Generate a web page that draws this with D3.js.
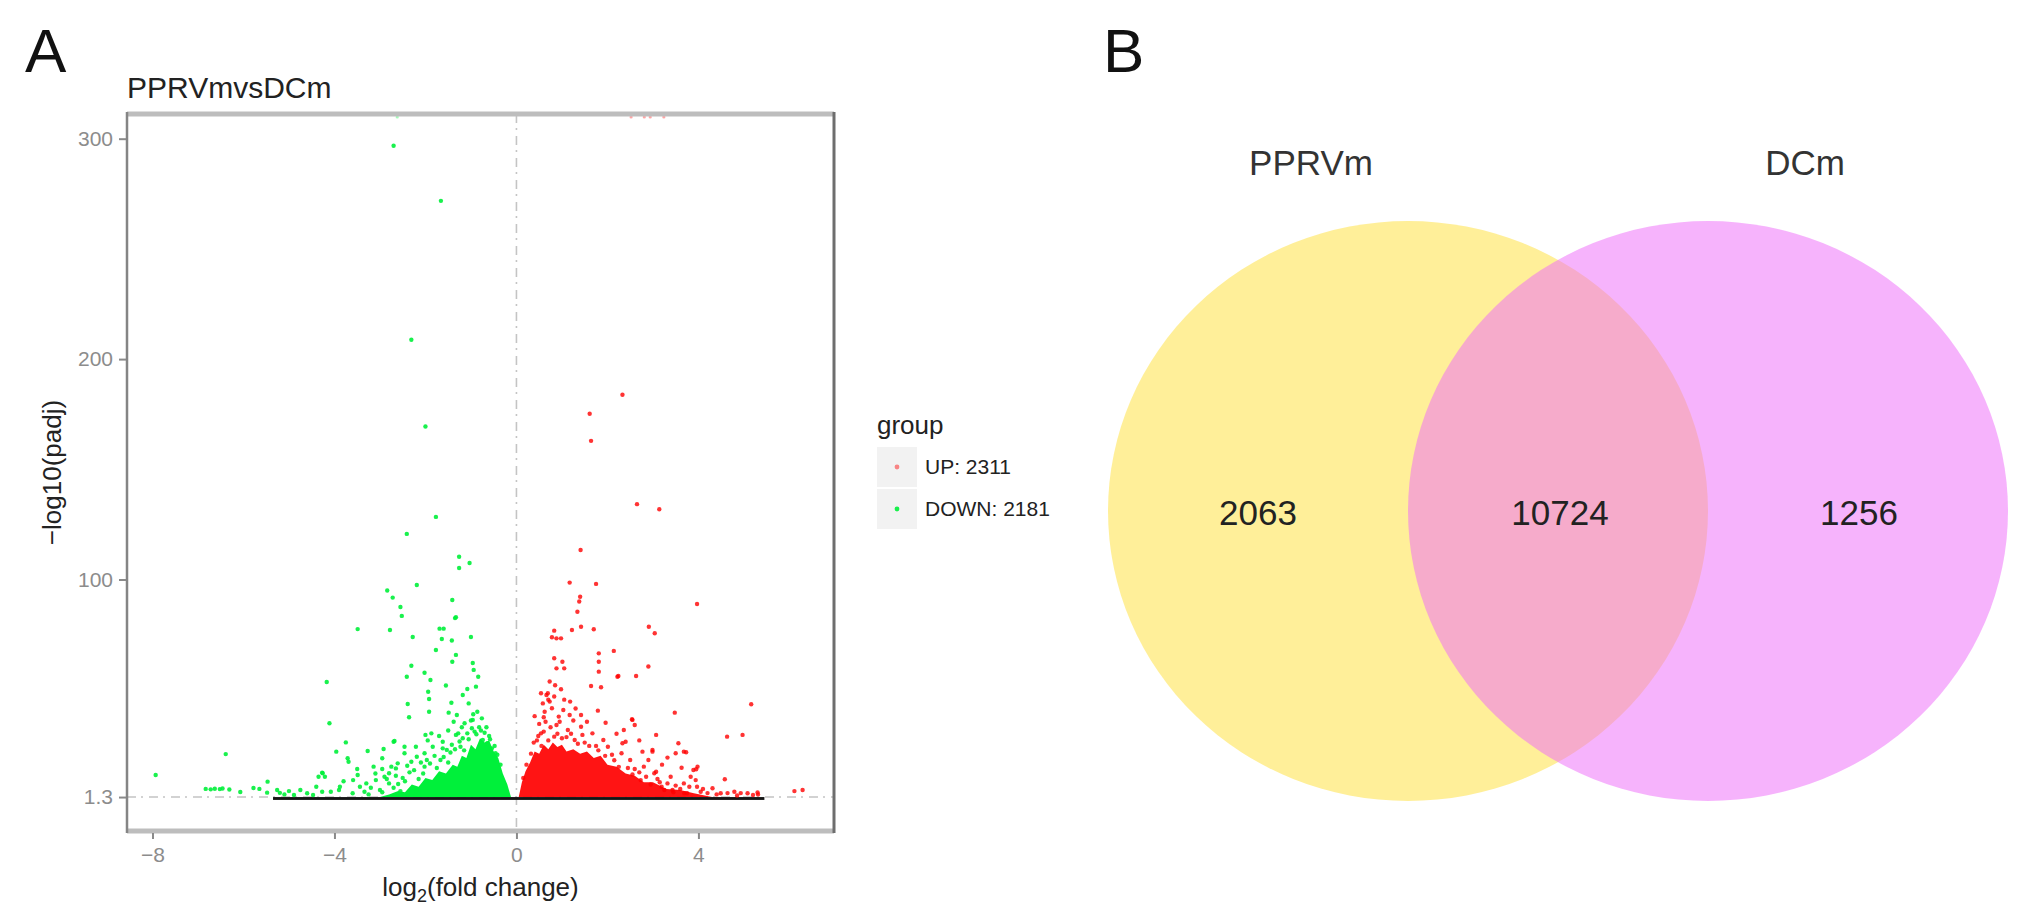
<!DOCTYPE html>
<html>
<head>
<meta charset="utf-8">
<script src="https://cdn.jsdelivr.net/npm/d3@7"></script>
<style>
  body { margin: 0; background: #fff; }
  svg { display: block; font-family: "Liberation Sans", Arial, Helvetica, sans-serif; }
</style>
</head>
<body>
<div id="chart"></div>
<script>
// ---- volcano data (log2 fold change, -log10 padj) ----
const downPoints = [
  [-2.70,296.8],[-1.66,271.8],[-2.31,208.8],[-2.00,169.4],[-1.77,128.4],[-2.41,120.7],
  [-1.26,110.3],[-1.26,105.2],[-1.03,107.5],[-2.19,97.5],[-2.84,95.0],[-2.72,91.8],
  [-1.41,90.7],[-2.55,87.5],[-2.52,83.5],[-1.35,82.5],[-1.33,82.9],[-3.49,77.5],
  [-2.78,77.1],[-1.69,77.7],[-1.60,77.7],[-2.28,73.9],[-1.64,73.0],[-1.42,72.3],
  [-1.00,73.9],[-1.77,68.0],[-1.33,65.8],[-1.41,62.7],[-0.96,62.1],[-2.31,60.9],
  [-2.02,57.7],[-2.41,55.9],[-0.94,59.0],[-0.84,55.9],[-4.17,53.5],[-1.89,54.4],
  [-1.55,51.9],[-0.89,51.4],[-1.94,49.1],[-1.08,50.3],[-1.18,47.6],[-1.92,45.8],
  [-2.39,43.5],[-1.43,44.1],[-1.05,43.8],[-1.92,40.0],[-1.49,39.6],[-1.31,38.5],
  [-0.95,38.9],[-2.36,37.5],[-0.76,37.0],[-1.38,35.5],[-4.11,34.8],[-2.00,29.5],
  [-1.87,30.2],[-3.75,26.1],[-3.96,21.9],[-3.27,22.2],[-2.92,23.1],[-2.68,26.7],
  [-3.71,18.9],[-3.69,17.3],[-2.95,18.9],[-6.39,20.8],[-7.93,11.3],[-4.26,12.1],
  [-4.21,10.5],[-5.47,8.3],[-6.83,5.0],[-6.72,4.8],[-6.63,5.1],[-6.52,4.9],
  [-6.46,5.2],[-6.31,4.7],[-6.07,3.6],[-5.78,5.4],[-5.65,5.0],[-5.26,4.5],
  [-5.20,3.2],[-4.89,2.2],[-5.48,3.3],
  [-4.35,10.5],[-4.27,12.4],[-3.59,9.0],[-3.49,11.3],[-3.44,6.0],[-3.14,15.1],
  [-3.09,9.0],[-2.80,12.1],[-2.65,14.3],[-2.80,7.5],[-3.88,6.0],[-4.08,3.7],
  [-4.27,3.7],[-4.47,2.2],[-3.34,3.7],[-3.00,4.5],[-2.90,10.5],
  [-2.70,26.4],[-2.46,24.1],[-2.46,21.2],[-2.21,24.1],[-2.19,19.6],[-2.02,21.2],
  [-1.84,24.1],[-1.62,26.4],[-1.62,23.4],[-1.42,25.0],[-1.33,29.5],[-1.28,30.2],
  [-1.23,24.1],[-1.08,30.2],[-0.98,32.5],[-0.96,36.3],[-0.92,31.0],[-0.74,27.2],
  [-0.64,25.7],[-0.54,23.4],[-0.46,21.2],[-1.14,34.8],[-1.53,22.7],[-1.97,18.1],
  [-2.31,17.3],[-2.61,16.6],[-2.75,15.1],[-2.02,15.1],[-1.67,18.1],
  [-0.70,30.5],[-0.82,33.0],[-1.18,28.0],[-0.60,29.0],[-1.05,27.5],[-0.88,29.8],
  [-2.50,10.0],[-2.60,7.2],[-2.35,12.5],[-2.15,9.5],[-3.20,5.5],[-3.60,3.0],
  [-3.80,8.5],[-2.95,3.5],[-2.55,4.0],[-4.60,3.0],[-5.00,4.0],
  [-3.30,7.5],[-3.10,12.0],[-2.95,14.0],[-2.85,9.5],[-2.70,5.5],[-2.65,11.0],
  [-2.45,8.5],[-2.40,15.5],[-2.25,13.5],[-2.10,17.0],[-2.05,12.0],[-1.90,16.5],
  [-1.80,20.0],[-1.75,14.5],[-1.60,19.5],[-1.50,17.0],[-1.45,21.5],[-1.35,23.0],
  [-1.25,26.5],[-1.15,22.5],[-0.78,31.5],[-0.66,33.0],[-0.58,27.5],[-0.48,24.5],
  [-0.42,20.5],[-0.35,16.0],[-3.50,14.0],[-3.90,4.5],[-4.40,6.0],[-4.75,4.5],
  [-5.10,2.5],[-3.25,2.5],[-2.20,4.0],[-1.95,27.0],[-1.70,29.0],[-1.50,31.5],
  [-1.20,33.0],[-1.00,36.0],[-0.86,40.0]
];
const upPoints = [
  [2.33,183.8],[1.61,175.2],[1.64,162.9],[2.65,134.2],[3.14,131.9],[1.41,113.4],
  [1.17,98.6],[1.75,98.0],[1.40,92.2],[1.38,90.0],[3.97,88.9],[1.34,85.4],
  [1.42,78.6],[1.22,77.1],[1.70,77.4],[2.91,78.6],[3.04,75.6],[0.83,76.8],
  [0.88,73.3],[0.78,73.8],[0.98,73.3],[1.81,66.5],[2.14,67.6],[1.81,62.7],
  [0.83,64.3],[1.01,62.7],[0.88,59.7],[1.05,59.7],[1.81,58.2],[2.90,60.5],
  [2.63,56.2],[2.24,56.2],[0.73,53.7],[1.64,51.7],[1.86,51.1],[0.98,50.2],
  [0.66,47.6],[0.83,46.9],[0.73,44.6],[1.18,44.6],[1.79,40.5],[3.48,39.6],
  [1.42,38.5],[0.62,40.0],[0.93,37.8],[2.55,36.3],[1.96,35.0],[2.36,31.7],
  [2.60,34.0],[3.07,29.5],[3.56,25.7],[3.73,21.6],[3.32,19.2],[3.95,13.9],
  [3.63,14.6],[3.07,12.8],
  [5.16,43.4],[4.63,28.7],[4.97,29.5],[3.68,21.9],[3.98,15.1],[3.89,13.6],
  [4.58,9.4],[6.11,4.0],[6.29,4.5],[2.22,55.9],[2.54,36.6],[2.33,25.7],
  [2.77,21.9],[2.99,21.9],[3.50,21.2],
  [0.54,48.4],[0.69,48.4],[0.58,43.8],[0.78,41.6],[1.03,40.8],[1.17,38.5],
  [0.64,35.5],[0.88,34.0],[1.13,31.7],[1.42,33.2],[1.67,30.2],[0.54,30.2],
  [0.83,28.7],[1.28,27.2],[1.91,27.2],[2.01,24.1],[2.31,21.2],[2.50,18.1],
  [2.80,15.1],[2.90,18.1],[2.40,26.4],[2.99,22.7],[3.39,10.5],[3.68,7.5],
  [3.97,6.0],[3.19,6.0],[3.83,10.5],
  [2.73,9.0],[3.03,12.1],[3.32,7.5],[3.80,6.0],[3.94,9.0],[4.05,3.7],
  [4.31,5.3],[4.49,3.0],[4.79,3.7],[5.08,3.0],[5.30,3.4],[3.69,3.0],
  [3.43,4.5],[4.20,3.1],[4.64,3.1],[4.93,3.1],[5.31,2.5],
  [0.45,27.0],[0.60,31.0],[1.10,28.5],[1.50,26.0],[0.95,35.5],[1.25,36.0],
  [0.40,38.0],[0.50,34.5],[1.75,24.5],[2.10,20.5],[2.60,14.0],[3.10,9.5],[3.50,6.5],
  [0.15,10.0],[0.22,16.0],[0.32,21.0],[0.38,26.0],[0.48,29.0],[0.55,24.5],
  [0.70,27.0],[0.75,33.0],[0.90,30.0],[1.00,28.0],[1.20,30.0],[1.35,25.5],
  [1.45,29.5],[1.60,24.5],[1.80,22.5],[1.95,20.0],[2.15,18.0],[2.25,15.0],
  [2.45,14.5],[2.55,11.5],[2.70,12.5],[2.85,10.5],[2.95,7.0],[3.15,8.0],
  [3.25,4.5],[3.45,3.5],[3.60,5.0],[3.75,3.0],[4.10,5.0],[4.40,2.5],
  [4.85,2.0],[5.20,2.2],[0.60,37.5],[0.70,45.5],[1.05,45.5],[1.30,41.5],
  [1.55,35.5],[0.85,52.0],[2.20,30.0],[2.70,27.0],[3.20,16.0]
];
// padj == 0 -> Inf, drawn on the top edge
const upInfX = [2.52, 2.81, 2.94, 3.24];
const downInfX = [-2.62];

// saturated cores where the points merge into a solid block
const downCoreX = [-3.0, -2.8, -2.6, -2.45, -2.3, -2.15, -2.0, -1.85, -1.7, -1.55, -1.4, -1.3,
  -1.2, -1.1, -1.0, -0.9, -0.8, -0.7, -0.6, -0.5, -0.4, -0.3, -0.2, -0.12];
const downCoreTop = [1.3, 2.5, 4, 3.5, 7, 6, 10, 9, 13, 12, 16, 15,
  20, 19, 25, 23, 28, 26, 27, 22, 19, 12, 7, 1.3];
const upCoreX = [0.05, 0.12, 0.2, 0.3, 0.4, 0.5, 0.6, 0.7, 0.8, 0.9, 1.0, 1.1, 1.25, 1.4,
  1.55, 1.7, 1.85, 2.0, 2.2, 2.4, 2.6, 2.8, 3.0, 3.3, 3.6, 3.9, 4.3];
const upCoreTop = [1.3, 8, 13, 17, 22, 21, 25, 23, 26, 24, 25, 22, 23, 21,
  22, 19, 20, 16, 15, 12, 11, 8, 8, 5, 4.5, 3, 1.3];

// non significant genes: band along the bottom
const nsX = [-5.35, 5.45];
const nsY = [0, 1.3];

const xTicks = [-8, -4, 0, 4];
const yTicks = [1.3, 100, 200, 300];
const xDomain = [-8.56, 6.98];
const yDomain = [-14.1, 311.2];
const threshold = 1.3;

const legendLabels = ['UP: 2311', 'DOWN: 2181'];

// ---- venn data ----
const vennSets = ['PPRVm', 'DCm'];
const vennCounts = [2063, 10724, 1256]; // PPRVm only, both, DCm only

const RED = '#ff0000', GREEN = '#00f03a';

const svg = d3.select('#chart').append('svg')
  .attr('width', 2028).attr('height', 916);

// panel letters
svg.append('text').attr('x', 25).attr('y', 72)
  .attr('font-size', 62).attr('fill', '#111').text('A');
svg.append('text').attr('x', 1103).attr('y', 72)
  .attr('font-size', 62).attr('fill', '#111').text('B');

// ================= volcano =================
const panel = { left: 127, right: 834, top: 114, bottom: 831 };

const x = d3.scaleLinear().domain(xDomain).range([panel.left, panel.right]);
const y = d3.scaleLinear().domain(yDomain).range([panel.bottom, panel.top]);
const yVal = (v) => (v === Infinity ? panel.top : y(v));

svg.append('text').attr('x', panel.left).attr('y', 98)
  .attr('font-size', 30).attr('fill', '#222').text('PPRVmvsDCm');

const plot = svg.append('g');

// threshold lines
const dash = '9,5,2,6';
plot.append('line')
  .attr('x1', panel.left).attr('x2', panel.right)
  .attr('y1', y(threshold)).attr('y2', y(threshold))
  .attr('stroke', '#c4c4c4').attr('stroke-width', 1.6).attr('stroke-dasharray', dash);
plot.append('line')
  .attr('x1', x(0)).attr('x2', x(0))
  .attr('y1', panel.top).attr('y2', panel.bottom)
  .attr('stroke', '#c4c4c4').attr('stroke-width', 1.6).attr('stroke-dasharray', dash);

// cores
const core = d3.area()
  .x((d) => x(d[0]))
  .y0(y(threshold))
  .y1((d) => y(d[1]));
plot.append('path')
  .datum(d3.zip(downCoreX, downCoreTop))
  .attr('d', core).attr('fill', GREEN);
plot.append('path')
  .datum(d3.zip(upCoreX, upCoreTop))
  .attr('d', core).attr('fill', RED).attr('opacity', 0.92);

// non significant band
plot.append('rect')
  .attr('x', x(nsX[0])).attr('width', x(nsX[1]) - x(nsX[0]))
  .attr('y', y(nsY[1])).attr('height', y(nsY[0]) - y(nsY[1]))
  .attr('fill', '#151515');

// points
plot.append('g').selectAll('circle')
  .data(downPoints).join('circle')
  .attr('cx', (d) => x(d[0])).attr('cy', (d) => y(d[1]))
  .attr('r', 2.2).attr('fill', GREEN).attr('opacity', 0.9);
plot.append('g').selectAll('circle')
  .data(upPoints).join('circle')
  .attr('cx', (d) => x(d[0])).attr('cy', (d) => y(d[1]))
  .attr('r', 2.2).attr('fill', RED).attr('opacity', 0.8);
plot.append('g').selectAll('circle')
  .data(upInfX.map((v) => ({ c: RED, v })).concat(downInfX.map((v) => ({ c: GREEN, v }))))
  .join('circle')
  .attr('cx', (d) => x(d.v)).attr('cy', yVal(Infinity) + 3)
  .attr('r', 1.6).attr('fill', (d) => d.c).attr('opacity', 0.35);

// panel border (left/right darker, top/bottom lighter as in the figure)
svg.append('line').attr('x1', panel.left).attr('x2', panel.right)
  .attr('y1', panel.top).attr('y2', panel.top)
  .attr('stroke', '#bdbdbd').attr('stroke-width', 5);
svg.append('line').attr('x1', panel.left).attr('x2', panel.right)
  .attr('y1', panel.bottom).attr('y2', panel.bottom)
  .attr('stroke', '#bdbdbd').attr('stroke-width', 5);
svg.append('line').attr('x1', panel.left).attr('x2', panel.left)
  .attr('y1', panel.top - 2).attr('y2', panel.bottom + 2)
  .attr('stroke', '#858585').attr('stroke-width', 2.5);
svg.append('line').attr('x1', panel.right).attr('x2', panel.right)
  .attr('y1', panel.top - 2).attr('y2', panel.bottom + 2)
  .attr('stroke', '#6e6e6e').attr('stroke-width', 3);

// axes
const xAxisG = svg.append('g')
  .attr('transform', `translate(0,${panel.bottom + 2})`)
  .call(d3.axisBottom(x).tickValues(xTicks).tickSize(6).tickPadding(8));
const yAxisG = svg.append('g')
  .attr('transform', `translate(${panel.left - 1},0)`)
  .call(d3.axisLeft(y).tickValues(yTicks).tickSize(7).tickPadding(6).tickFormat((d) => d));
[xAxisG, yAxisG].forEach((g) => {
  g.select('.domain').remove();
  g.selectAll('.tick line').attr('stroke', '#8a8a8a').attr('stroke-width', 2);
  g.selectAll('.tick text').attr('fill', '#8c8c8c').attr('font-size', 21)
    .attr('font-family', '"Liberation Sans", Arial, sans-serif');
});

// axis titles
svg.append('text')
  .attr('transform', `translate(61,${(panel.top + panel.bottom) / 2}) rotate(-90)`)
  .attr('text-anchor', 'middle').attr('font-size', 26).attr('fill', '#222')
  .text('\u2212log10(padj)');
const xt = svg.append('text')
  .attr('x', (panel.left + panel.right) / 2).attr('y', 896)
  .attr('text-anchor', 'middle').attr('font-size', 26).attr('fill', '#222');
xt.append('tspan').text('log');
xt.append('tspan').attr('font-size', 18).attr('dy', 6).text('2');
xt.append('tspan').attr('dy', -6).text('(fold change)');

// legend
const legend = svg.append('g').attr('transform', 'translate(877,0)');
legend.append('text').attr('x', 0).attr('y', 434)
  .attr('font-size', 26).attr('fill', '#222').text('group');
const keys = legend.selectAll('g.key')
  .data(legendLabels.map((l, i) => ({ l, c: i === 0 ? RED : GREEN })))
  .join('g').attr('class', 'key')
  .attr('transform', (d, i) => `translate(0,${447 + i * 42})`);
keys.append('rect').attr('width', 40).attr('height', 40).attr('fill', '#f2f2f2');
keys.append('circle').attr('cx', 20).attr('cy', 20).attr('r', 2.4)
  .attr('fill', (d) => d.c).attr('opacity', (d, i) => (i === 0 ? 0.45 : 0.9));
keys.append('text').attr('x', 48).attr('y', 27)
  .attr('font-size', 21).attr('fill', '#222').text((d) => d.l);

// ================= venn =================
const venn = svg.append('g');
const vx = d3.scaleLinear().domain([0, 1]).range([1408, 1708]); // set centres
const vennFill = ['#ffd700', 'rgb(238,110,250)'];
const vennAlpha = [0.4, 0.52];
venn.selectAll('ellipse')
  .data(vennSets).join('ellipse')
  .attr('cx', (d, i) => vx(i)).attr('cy', 511)
  .attr('rx', 300).attr('ry', 290)
  .attr('fill', (d, i) => vennFill[i]).attr('fill-opacity', (d, i) => vennAlpha[i]);

const labelX = [1311, 1805];
venn.selectAll('text.set')
  .data(vennSets).join('text').attr('class', 'set')
  .attr('x', (d, i) => labelX[i]).attr('y', 162)
  .attr('text-anchor', 'middle').attr('dominant-baseline', 'central')
  .attr('font-size', 35).attr('fill', '#333').text((d) => d);

const countX = [1258, 1560, 1859];
venn.selectAll('text.count')
  .data(vennCounts).join('text').attr('class', 'count')
  .attr('x', (d, i) => countX[i]).attr('y', 512)
  .attr('text-anchor', 'middle').attr('dominant-baseline', 'central')
  .attr('font-size', 35).attr('fill', '#222').text((d) => d);
</script>
</body>
</html>
